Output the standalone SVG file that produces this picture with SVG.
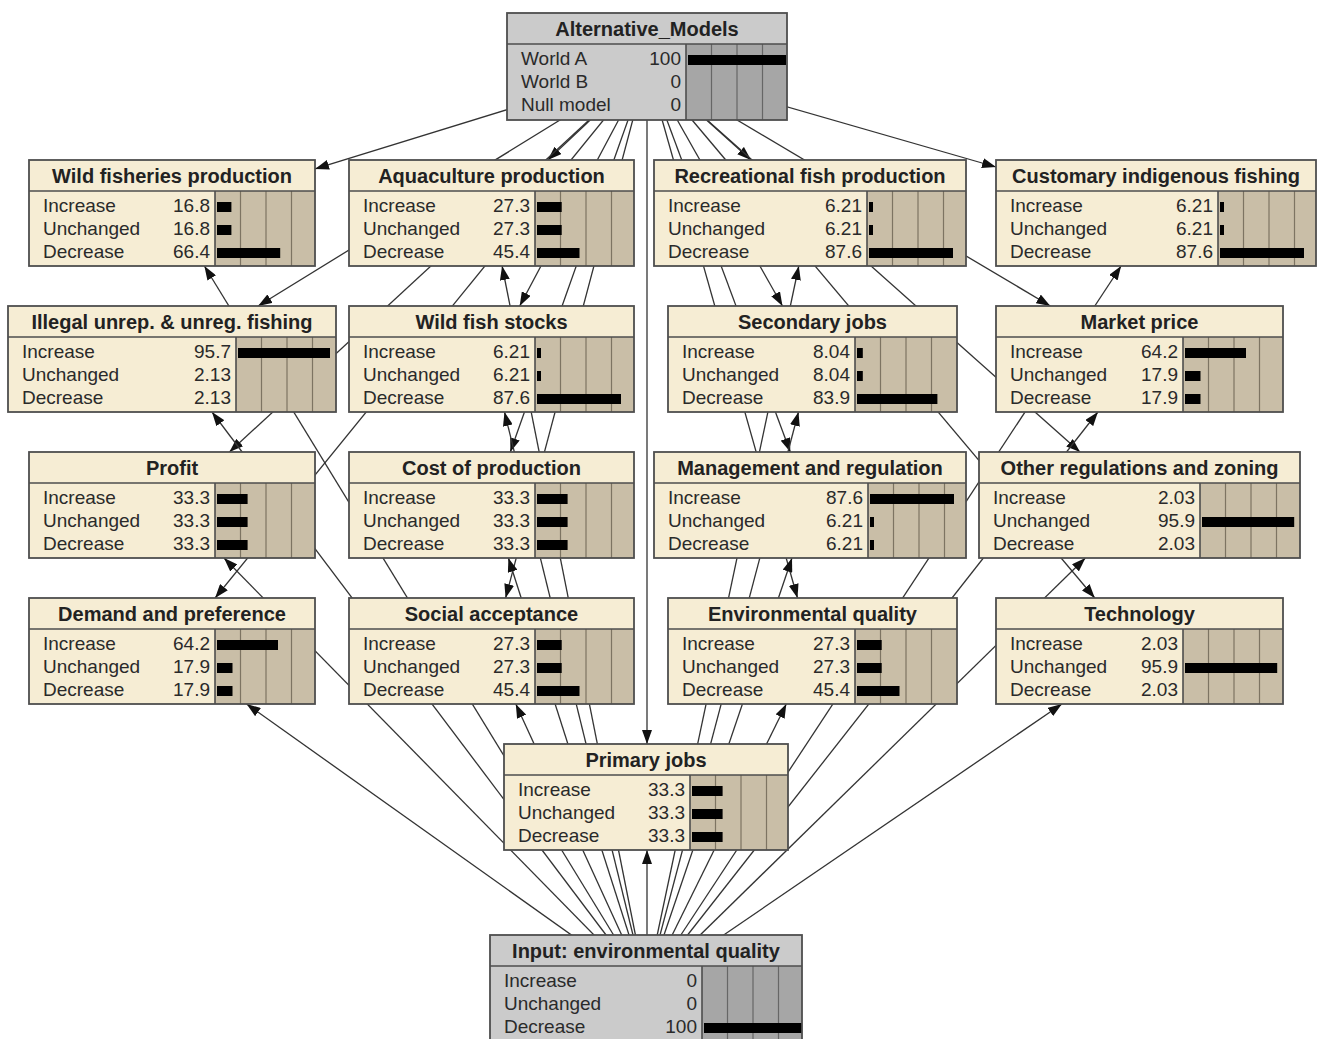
<svg xmlns="http://www.w3.org/2000/svg" width="1322" height="1039" viewBox="0 0 1322 1039">
<style>
.cr{fill:#f6edd4}
.gy{fill:#cbcbcb}
.ba{fill:#c9bea7}
.bg{fill:#a6a6a6}
.gr{stroke:#7d7462;stroke-width:1.2;fill:none}
.gg{stroke:#666;stroke-width:1.2;fill:none}
.sp{stroke:#4e4e4e;stroke-width:1.6;fill:none}
.ob{fill:none;stroke:#4e4e4e;stroke-width:1.8}
.t{font-family:"Liberation Sans",Arial,sans-serif;font-weight:bold;font-size:20px;fill:#222;text-anchor:middle}
.l{font-family:"Liberation Sans",Arial,sans-serif;font-size:19px;fill:#2a2a2a}
.v{font-family:"Liberation Sans",Arial,sans-serif;font-size:19px;fill:#2a2a2a;text-anchor:end}
.br{fill:#000}
.lk{stroke:#333;stroke-width:1.3;fill:none;marker-end:url(#ah)}
</style>
<defs>
<marker id="ah" viewBox="0 0 14 10" refX="14" refY="5" markerWidth="14" markerHeight="10" markerUnits="userSpaceOnUse" orient="auto"><path d="M0,0 L14,5 L0,10 z" fill="#111"/></marker>
</defs>
<rect width="1322" height="1039" fill="#fff"/>
<g id="connectors">
<line class="lk" x1="647" y1="66.5" x2="315" y2="168.9"/>
<line class="lk" x1="647" y1="66.5" x2="547.8" y2="160"/>
<line class="lk" x1="647" y1="66.5" x2="751" y2="160"/>
<line class="lk" x1="647" y1="66.5" x2="996" y2="167"/>
<line class="lk" x1="647" y1="66.5" x2="258.1" y2="306"/>
<line class="lk" x1="647" y1="66.5" x2="519.7" y2="306"/>
<line class="lk" x1="647" y1="66.5" x2="782.5" y2="306"/>
<line class="lk" x1="647" y1="66.5" x2="1050.3" y2="306"/>
<line class="lk" x1="647" y1="66.5" x2="229.4" y2="452"/>
<line class="lk" x1="647" y1="66.5" x2="510.3" y2="452"/>
<line class="lk" x1="647" y1="66.5" x2="790.3" y2="452"/>
<line class="lk" x1="647" y1="66.5" x2="1080" y2="452"/>
<line class="lk" x1="647" y1="66.5" x2="215.1" y2="598"/>
<line class="lk" x1="647" y1="66.5" x2="505.6" y2="598"/>
<line class="lk" x1="647" y1="66.5" x2="797.5" y2="598"/>
<line class="lk" x1="647" y1="66.5" x2="1094.8" y2="598"/>
<line class="lk" x1="647" y1="66.5" x2="647" y2="744"/>
<line class="lk" x1="646" y1="988" x2="246.6" y2="704"/>
<line class="lk" x1="646" y1="988" x2="515.8" y2="704"/>
<line class="lk" x1="646" y1="988" x2="786.3" y2="704"/>
<line class="lk" x1="646" y1="988" x2="1061.9" y2="704"/>
<line class="lk" x1="646" y1="988" x2="224" y2="558"/>
<line class="lk" x1="646" y1="988" x2="508.4" y2="558"/>
<line class="lk" x1="646" y1="988" x2="792" y2="558"/>
<line class="lk" x1="646" y1="988" x2="1085.4" y2="558"/>
<line class="lk" x1="646" y1="988" x2="212" y2="412"/>
<line class="lk" x1="646" y1="988" x2="504.5" y2="412"/>
<line class="lk" x1="646" y1="988" x2="798.5" y2="412"/>
<line class="lk" x1="646" y1="988" x2="1097.9" y2="412"/>
<line class="lk" x1="646" y1="988" x2="204.4" y2="266"/>
<line class="lk" x1="646" y1="988" x2="502.1" y2="266"/>
<line class="lk" x1="646" y1="988" x2="798.8" y2="266"/>
<line class="lk" x1="646" y1="988" x2="1121.1" y2="266"/>
<line class="lk" x1="647" y1="988" x2="647" y2="850"/>
</g>

<g id="alternative_models">
<rect class="gy" x="507" y="13" width="280" height="107"/>
<rect class="bg" x="686" y="44" width="101" height="76"/>
<path class="gg" d="M711.5 44V120M737 44V120M762.5 44V120"/>
<path class="sp" d="M507 44H787M686 44V120"/>
<text class="t" x="647" y="36">Alternative_Models</text>
<text class="l" x="521" y="65">World A</text><text class="v" x="681" y="65">100</text>
<text class="l" x="521" y="88">World B</text><text class="v" x="681" y="88">0</text>
<text class="l" x="521" y="111">Null model</text><text class="v" x="681" y="111">0</text>
<rect class="br" x="688" y="55" width="98" height="10"/>
<rect class="ob" x="507" y="13" width="280" height="107"/>
</g>

<g id="wild_fisheries_production">
<rect class="cr" x="29" y="160" width="286" height="106"/>
<rect class="ba" x="215" y="191" width="100" height="75"/>
<path class="gr" d="M240.5 191V266M266 191V266M291.5 191V266"/>
<path class="sp" d="M29 191H315M215 191V266"/>
<text class="t" x="172" y="183">Wild fisheries production</text>
<text class="l" x="43" y="212">Increase</text><text class="v" x="210" y="212">16.8</text>
<text class="l" x="43" y="235">Unchanged</text><text class="v" x="210" y="235">16.8</text>
<text class="l" x="43" y="258">Decrease</text><text class="v" x="210" y="258">66.4</text>
<rect class="br" x="217" y="202" width="14.4" height="10"/>
<rect class="br" x="217" y="225" width="14.4" height="10"/>
<rect class="br" x="217" y="248" width="63.2" height="10"/>
<rect class="ob" x="29" y="160" width="286" height="106"/>
</g>

<g id="aquaculture_production">
<rect class="cr" x="349" y="160" width="285" height="106"/>
<rect class="ba" x="535" y="191" width="99" height="75"/>
<path class="gr" d="M560.5 191V266M586 191V266M611.5 191V266"/>
<path class="sp" d="M349 191H634M535 191V266"/>
<text class="t" x="491.5" y="183">Aquaculture production</text>
<text class="l" x="363" y="212">Increase</text><text class="v" x="530" y="212">27.3</text>
<text class="l" x="363" y="235">Unchanged</text><text class="v" x="530" y="235">27.3</text>
<text class="l" x="363" y="258">Decrease</text><text class="v" x="530" y="258">45.4</text>
<rect class="br" x="537" y="202" width="24.7" height="10"/>
<rect class="br" x="537" y="225" width="24.7" height="10"/>
<rect class="br" x="537" y="248" width="42.5" height="10"/>
<rect class="ob" x="349" y="160" width="285" height="106"/>
</g>

<g id="recreational_fish_production">
<rect class="cr" x="654" y="160" width="312" height="106"/>
<rect class="ba" x="867" y="191" width="99" height="75"/>
<path class="gr" d="M892.5 191V266M918 191V266M943.5 191V266"/>
<path class="sp" d="M654 191H966M867 191V266"/>
<text class="t" x="810" y="183">Recreational fish production</text>
<text class="l" x="668" y="212">Increase</text><text class="v" x="862" y="212">6.21</text>
<text class="l" x="668" y="235">Unchanged</text><text class="v" x="862" y="235">6.21</text>
<text class="l" x="668" y="258">Decrease</text><text class="v" x="862" y="258">87.6</text>
<rect class="br" x="869" y="202" width="4" height="10"/>
<rect class="br" x="869" y="225" width="4" height="10"/>
<rect class="br" x="869" y="248" width="84" height="10"/>
<rect class="ob" x="654" y="160" width="312" height="106"/>
</g>

<g id="customary_indigenous_fishing">
<rect class="cr" x="996" y="160" width="320" height="106"/>
<rect class="ba" x="1218" y="191" width="98" height="75"/>
<path class="gr" d="M1243.5 191V266M1269 191V266M1294.5 191V266"/>
<path class="sp" d="M996 191H1316M1218 191V266"/>
<text class="t" x="1156" y="183">Customary indigenous fishing</text>
<text class="l" x="1010" y="212">Increase</text><text class="v" x="1213" y="212">6.21</text>
<text class="l" x="1010" y="235">Unchanged</text><text class="v" x="1213" y="235">6.21</text>
<text class="l" x="1010" y="258">Decrease</text><text class="v" x="1213" y="258">87.6</text>
<rect class="br" x="1220" y="202" width="4" height="10"/>
<rect class="br" x="1220" y="225" width="4" height="10"/>
<rect class="br" x="1220" y="248" width="84" height="10"/>
<rect class="ob" x="996" y="160" width="320" height="106"/>
</g>

<g id="illegal_fishing">
<rect class="cr" x="8" y="306" width="328" height="106"/>
<rect class="ba" x="236" y="337" width="100" height="75"/>
<path class="gr" d="M261.5 337V412M287 337V412M312.5 337V412"/>
<path class="sp" d="M8 337H336M236 337V412"/>
<text class="t" x="172" y="329">Illegal unrep. &amp; unreg. fishing</text>
<text class="l" x="22" y="358">Increase</text><text class="v" x="231" y="358">95.7</text>
<text class="l" x="22" y="381">Unchanged</text><text class="v" x="231" y="381">2.13</text>
<text class="l" x="22" y="404">Decrease</text><text class="v" x="231" y="404">2.13</text>
<rect class="br" x="238" y="348" width="92" height="10"/>
<rect class="ob" x="8" y="306" width="328" height="106"/>
</g>

<g id="wild_fish_stocks">
<rect class="cr" x="349" y="306" width="285" height="106"/>
<rect class="ba" x="535" y="337" width="99" height="75"/>
<path class="gr" d="M560.5 337V412M586 337V412M611.5 337V412"/>
<path class="sp" d="M349 337H634M535 337V412"/>
<text class="t" x="491.5" y="329">Wild fish stocks</text>
<text class="l" x="363" y="358">Increase</text><text class="v" x="530" y="358">6.21</text>
<text class="l" x="363" y="381">Unchanged</text><text class="v" x="530" y="381">6.21</text>
<text class="l" x="363" y="404">Decrease</text><text class="v" x="530" y="404">87.6</text>
<rect class="br" x="537" y="348" width="4" height="10"/>
<rect class="br" x="537" y="371" width="4" height="10"/>
<rect class="br" x="537" y="394" width="84" height="10"/>
<rect class="ob" x="349" y="306" width="285" height="106"/>
</g>

<g id="secondary_jobs">
<rect class="cr" x="668" y="306" width="289" height="106"/>
<rect class="ba" x="855" y="337" width="102" height="75"/>
<path class="gr" d="M880.5 337V412M906 337V412M931.5 337V412"/>
<path class="sp" d="M668 337H957M855 337V412"/>
<text class="t" x="812.5" y="329">Secondary jobs</text>
<text class="l" x="682" y="358">Increase</text><text class="v" x="850" y="358">8.04</text>
<text class="l" x="682" y="381">Unchanged</text><text class="v" x="850" y="381">8.04</text>
<text class="l" x="682" y="404">Decrease</text><text class="v" x="850" y="404">83.9</text>
<rect class="br" x="857" y="348" width="5.8" height="10"/>
<rect class="br" x="857" y="371" width="5.8" height="10"/>
<rect class="br" x="857" y="394" width="80.4" height="10"/>
<rect class="ob" x="668" y="306" width="289" height="106"/>
</g>

<g id="market_price">
<rect class="cr" x="996" y="306" width="287" height="106"/>
<rect class="ba" x="1183" y="337" width="100" height="75"/>
<path class="gr" d="M1208.5 337V412M1234 337V412M1259.5 337V412"/>
<path class="sp" d="M996 337H1283M1183 337V412"/>
<text class="t" x="1139.5" y="329">Market price</text>
<text class="l" x="1010" y="358">Increase</text><text class="v" x="1178" y="358">64.2</text>
<text class="l" x="1010" y="381">Unchanged</text><text class="v" x="1178" y="381">17.9</text>
<text class="l" x="1010" y="404">Decrease</text><text class="v" x="1178" y="404">17.9</text>
<rect class="br" x="1185" y="348" width="61" height="10"/>
<rect class="br" x="1185" y="371" width="15.5" height="10"/>
<rect class="br" x="1185" y="394" width="15.5" height="10"/>
<rect class="ob" x="996" y="306" width="287" height="106"/>
</g>

<g id="profit">
<rect class="cr" x="29" y="452" width="286" height="106"/>
<rect class="ba" x="215" y="483" width="100" height="75"/>
<path class="gr" d="M240.5 483V558M266 483V558M291.5 483V558"/>
<path class="sp" d="M29 483H315M215 483V558"/>
<text class="t" x="172" y="475">Profit</text>
<text class="l" x="43" y="504">Increase</text><text class="v" x="210" y="504">33.3</text>
<text class="l" x="43" y="527">Unchanged</text><text class="v" x="210" y="527">33.3</text>
<text class="l" x="43" y="550">Decrease</text><text class="v" x="210" y="550">33.3</text>
<rect class="br" x="217" y="494" width="30.6" height="10"/>
<rect class="br" x="217" y="517" width="30.6" height="10"/>
<rect class="br" x="217" y="540" width="30.6" height="10"/>
<rect class="ob" x="29" y="452" width="286" height="106"/>
</g>

<g id="cost_of_production">
<rect class="cr" x="349" y="452" width="285" height="106"/>
<rect class="ba" x="535" y="483" width="99" height="75"/>
<path class="gr" d="M560.5 483V558M586 483V558M611.5 483V558"/>
<path class="sp" d="M349 483H634M535 483V558"/>
<text class="t" x="491.5" y="475">Cost of production</text>
<text class="l" x="363" y="504">Increase</text><text class="v" x="530" y="504">33.3</text>
<text class="l" x="363" y="527">Unchanged</text><text class="v" x="530" y="527">33.3</text>
<text class="l" x="363" y="550">Decrease</text><text class="v" x="530" y="550">33.3</text>
<rect class="br" x="537" y="494" width="30.6" height="10"/>
<rect class="br" x="537" y="517" width="30.6" height="10"/>
<rect class="br" x="537" y="540" width="30.6" height="10"/>
<rect class="ob" x="349" y="452" width="285" height="106"/>
</g>

<g id="management_and_regulation">
<rect class="cr" x="654" y="452" width="312" height="106"/>
<rect class="ba" x="868" y="483" width="98" height="75"/>
<path class="gr" d="M893.5 483V558M919 483V558M944.5 483V558"/>
<path class="sp" d="M654 483H966M868 483V558"/>
<text class="t" x="810" y="475">Management and regulation</text>
<text class="l" x="668" y="504">Increase</text><text class="v" x="863" y="504">87.6</text>
<text class="l" x="668" y="527">Unchanged</text><text class="v" x="863" y="527">6.21</text>
<text class="l" x="668" y="550">Decrease</text><text class="v" x="863" y="550">6.21</text>
<rect class="br" x="870" y="494" width="84" height="10"/>
<rect class="br" x="870" y="517" width="4" height="10"/>
<rect class="br" x="870" y="540" width="4" height="10"/>
<rect class="ob" x="654" y="452" width="312" height="106"/>
</g>

<g id="other_regulations_and_zoning">
<rect class="cr" x="979" y="452" width="321" height="106"/>
<rect class="ba" x="1200" y="483" width="100" height="75"/>
<path class="gr" d="M1225.5 483V558M1251 483V558M1276.5 483V558"/>
<path class="sp" d="M979 483H1300M1200 483V558"/>
<text class="t" x="1139.5" y="475">Other regulations and zoning</text>
<text class="l" x="993" y="504">Increase</text><text class="v" x="1195" y="504">2.03</text>
<text class="l" x="993" y="527">Unchanged</text><text class="v" x="1195" y="527">95.9</text>
<text class="l" x="993" y="550">Decrease</text><text class="v" x="1195" y="550">2.03</text>
<rect class="br" x="1202" y="517" width="92.2" height="10"/>
<rect class="ob" x="979" y="452" width="321" height="106"/>
</g>

<g id="demand_and_preference">
<rect class="cr" x="29" y="598" width="286" height="106"/>
<rect class="ba" x="215" y="629" width="100" height="75"/>
<path class="gr" d="M240.5 629V704M266 629V704M291.5 629V704"/>
<path class="sp" d="M29 629H315M215 629V704"/>
<text class="t" x="172" y="621">Demand and preference</text>
<text class="l" x="43" y="650">Increase</text><text class="v" x="210" y="650">64.2</text>
<text class="l" x="43" y="673">Unchanged</text><text class="v" x="210" y="673">17.9</text>
<text class="l" x="43" y="696">Decrease</text><text class="v" x="210" y="696">17.9</text>
<rect class="br" x="217" y="640" width="61" height="10"/>
<rect class="br" x="217" y="663" width="15.5" height="10"/>
<rect class="br" x="217" y="686" width="15.5" height="10"/>
<rect class="ob" x="29" y="598" width="286" height="106"/>
</g>

<g id="social_acceptance">
<rect class="cr" x="349" y="598" width="285" height="106"/>
<rect class="ba" x="535" y="629" width="99" height="75"/>
<path class="gr" d="M560.5 629V704M586 629V704M611.5 629V704"/>
<path class="sp" d="M349 629H634M535 629V704"/>
<text class="t" x="491.5" y="621">Social acceptance</text>
<text class="l" x="363" y="650">Increase</text><text class="v" x="530" y="650">27.3</text>
<text class="l" x="363" y="673">Unchanged</text><text class="v" x="530" y="673">27.3</text>
<text class="l" x="363" y="696">Decrease</text><text class="v" x="530" y="696">45.4</text>
<rect class="br" x="537" y="640" width="24.7" height="10"/>
<rect class="br" x="537" y="663" width="24.7" height="10"/>
<rect class="br" x="537" y="686" width="42.5" height="10"/>
<rect class="ob" x="349" y="598" width="285" height="106"/>
</g>

<g id="environmental_quality">
<rect class="cr" x="668" y="598" width="289" height="106"/>
<rect class="ba" x="855" y="629" width="102" height="75"/>
<path class="gr" d="M880.5 629V704M906 629V704M931.5 629V704"/>
<path class="sp" d="M668 629H957M855 629V704"/>
<text class="t" x="812.5" y="621">Environmental quality</text>
<text class="l" x="682" y="650">Increase</text><text class="v" x="850" y="650">27.3</text>
<text class="l" x="682" y="673">Unchanged</text><text class="v" x="850" y="673">27.3</text>
<text class="l" x="682" y="696">Decrease</text><text class="v" x="850" y="696">45.4</text>
<rect class="br" x="857" y="640" width="24.7" height="10"/>
<rect class="br" x="857" y="663" width="24.7" height="10"/>
<rect class="br" x="857" y="686" width="42.5" height="10"/>
<rect class="ob" x="668" y="598" width="289" height="106"/>
</g>

<g id="technology">
<rect class="cr" x="996" y="598" width="287" height="106"/>
<rect class="ba" x="1183" y="629" width="100" height="75"/>
<path class="gr" d="M1208.5 629V704M1234 629V704M1259.5 629V704"/>
<path class="sp" d="M996 629H1283M1183 629V704"/>
<text class="t" x="1139.5" y="621">Technology</text>
<text class="l" x="1010" y="650">Increase</text><text class="v" x="1178" y="650">2.03</text>
<text class="l" x="1010" y="673">Unchanged</text><text class="v" x="1178" y="673">95.9</text>
<text class="l" x="1010" y="696">Decrease</text><text class="v" x="1178" y="696">2.03</text>
<rect class="br" x="1185" y="663" width="92.2" height="10"/>
<rect class="ob" x="996" y="598" width="287" height="106"/>
</g>

<g id="primary_jobs">
<rect class="cr" x="504" y="744" width="284" height="106"/>
<rect class="ba" x="690" y="775" width="98" height="75"/>
<path class="gr" d="M715.5 775V850M741 775V850M766.5 775V850"/>
<path class="sp" d="M504 775H788M690 775V850"/>
<text class="t" x="646" y="767">Primary jobs</text>
<text class="l" x="518" y="796">Increase</text><text class="v" x="685" y="796">33.3</text>
<text class="l" x="518" y="819">Unchanged</text><text class="v" x="685" y="819">33.3</text>
<text class="l" x="518" y="842">Decrease</text><text class="v" x="685" y="842">33.3</text>
<rect class="br" x="692" y="786" width="30.6" height="10"/>
<rect class="br" x="692" y="809" width="30.6" height="10"/>
<rect class="br" x="692" y="832" width="30.6" height="10"/>
<rect class="ob" x="504" y="744" width="284" height="106"/>
</g>

<g id="input_environmental_quality">
<rect class="gy" x="490" y="935" width="312" height="106"/>
<rect class="bg" x="702" y="966" width="100" height="75"/>
<path class="gg" d="M727.5 966V1041M753 966V1041M778.5 966V1041"/>
<path class="sp" d="M490 966H802M702 966V1041"/>
<text class="t" x="646" y="958">Input: environmental quality</text>
<text class="l" x="504" y="987">Increase</text><text class="v" x="697" y="987">0</text>
<text class="l" x="504" y="1010">Unchanged</text><text class="v" x="697" y="1010">0</text>
<text class="l" x="504" y="1033">Decrease</text><text class="v" x="697" y="1033">100</text>
<rect class="br" x="704" y="1023" width="98" height="10"/>
<rect class="ob" x="490" y="935" width="312" height="106"/>
</g>
</svg>
